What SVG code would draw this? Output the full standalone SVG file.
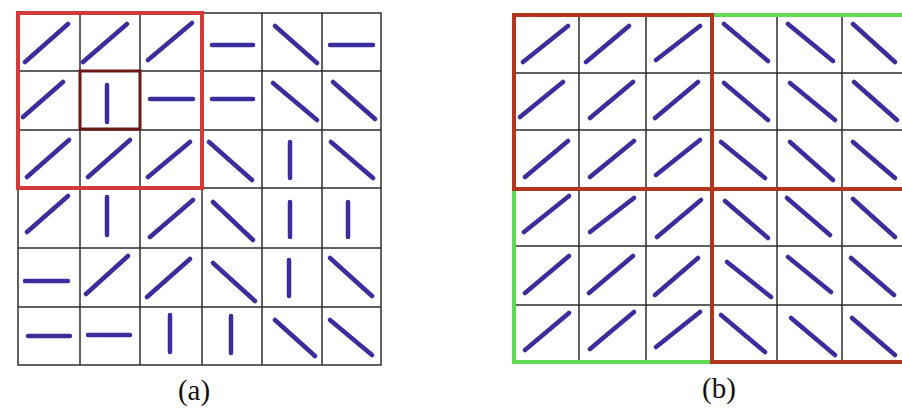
<svg xmlns="http://www.w3.org/2000/svg" width="902" height="411" viewBox="0 0 902 411">
<style>
.grid{stroke:#2e2e2e;stroke-width:1.5;fill:none}
.o{stroke:#3b2d9c;stroke-width:4.5;stroke-linecap:round;fill:none}
.redA{stroke:#d33a3a;stroke-width:4;fill:none}
.inner{stroke:#6a1818;stroke-width:3;fill:none}
.redB{stroke:#b0361f;stroke-width:4;fill:none}
.green{stroke:#62d956;stroke-width:4;fill:none}
.lbl{font-family:"Liberation Serif","Times New Roman",serif;font-size:29px;fill:#111;text-anchor:middle}
</style>
<rect width="902" height="411" fill="#ffffff"/>
<g id="panel-a">
  <g id="grid-a" class="grid">
    <rect x="18" y="13" width="363" height="352"/>
    <path d="M80 13V365M140 13V365M202 13V365M262 13V365M322 13V365M18 71H381M18 130H381M18 188H381M18 248H381M18 307H381"/>
  </g>
  <g id="orient-a" class="o">
    <path d="M25 62L68 24M83 62L127 24M148 60L192 23M212 45H253M275 26L317 63M330 45H373"/>
    <path d="M23 117L63 82M107 85V122M150 99H193M212 99H253M273 83L317 120M333 82L375 119"/>
    <path d="M27 177L69 140M88 177L130 140M148 177L190 142M209 142L252 180M290 142V178M331 142L373 178"/>
    <path d="M27 232L68 196M107 197V235M150 237L193 200M213 202L253 240M290 202V237M348 202V237"/>
    <path d="M25 281H68M86 294L128 256M147 297L190 259M213 263L255 301M289 260V296M330 258L372 296"/>
    <path d="M28 336H70M88 335H130M170 315V352M231 316V353M275 320L315 356M330 320L372 355"/>
  </g>
  <rect id="box-a-outer" class="redA" x="18" y="13" width="184" height="175"/>
  <rect id="box-a-inner" class="inner" x="80" y="71" width="60" height="58"/>
  <text id="label-a" class="lbl" x="194" y="400">(a)</text>
</g>
<g id="panel-b">
  <g id="grid-b" class="grid">
    <rect x="514" y="15" width="400" height="347"/>
    <path d="M579 15V362M646 15V362M712 15V362M777 15V362M842 15V362M514 73H914M514 130H914M514 189H914M514 246H914M514 305H914"/>
  </g>
  <g id="orient-b" class="o">
    <path d="M523 62L568 26M586 62L629 26M656 60L700 26M724 24L768 61M788 24L833 61M853 24L895 62"/>
    <path d="M520 117L563 82M590 118L633 82M655 118L698 82M724 83L768 120M790 83L835 120M854 82L897 120"/>
    <path d="M525 177L568 141M590 177L634 141M656 175L700 140M721 142L765 178M790 142L833 180M853 142L895 178"/>
    <path d="M524 232L569 196M590 232L634 198M657 237L701 200M725 201L768 238M787 198L830 235M853 199L895 237"/>
    <path d="M525 293L569 256M589 293L633 256M655 295L698 258M727 262L771 297M788 257L831 292M851 258L894 295"/>
    <path d="M525 350L569 313M590 349L634 312M656 347L700 312M721 315L765 352M791 318L835 355M852 318L895 355"/>
  </g>
  <rect id="box-b-tr" class="green" x="712" y="15" width="202" height="174"/>
  <rect id="box-b-bl" class="green" x="514" y="189" width="198" height="173"/>
  <rect id="box-b-tl" class="redB" x="514" y="15" width="198" height="174"/>
  <rect id="box-b-br" class="redB" x="712" y="189" width="202" height="173"/>
  <text id="label-b" class="lbl" x="719" y="398">(b)</text>
</g>
</svg>
